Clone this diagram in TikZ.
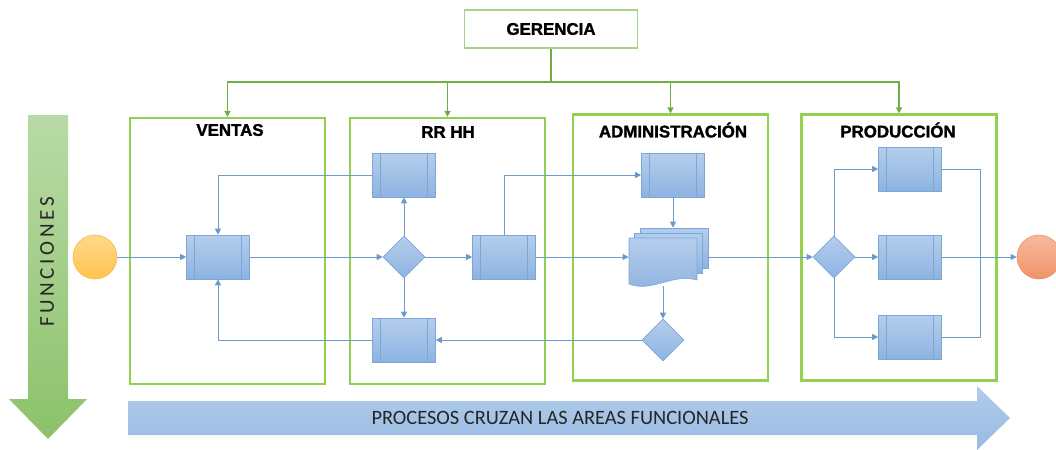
\documentclass[tikz,border=0pt]{standalone}
\usepackage{fontspec}
\setmainfont{Liberation Sans}[BoldFeatures={FakeBold=1.6}]
\newfontfamily\calibrifont{Carlito}
\newfontfamily\spacedfont[LetterSpace=17]{Carlito}
\usetikzlibrary{shapes.geometric,arrows.meta}

\definecolor{areagreen}{HTML}{92D050}
\definecolor{linkgreen}{HTML}{70AD47}
\definecolor{gerframe}{HTML}{A9D18E}
\definecolor{procedge}{HTML}{7AA6D8}
\definecolor{proctop}{HTML}{B4CEEC}
\definecolor{procbot}{HTML}{8EB3E1}
\definecolor{flowline}{HTML}{6F9BCB}
\definecolor{flowtip}{HTML}{5B9BD5}
\definecolor{funtop}{HTML}{B9DAA6}
\definecolor{funbot}{HTML}{8CC26B}
\definecolor{protop}{HTML}{B2CCEA}
\definecolor{probot}{HTML}{98BBE3}
\definecolor{starttop}{HTML}{FFD98A}
\definecolor{startbot}{HTML}{FFC24E}
\definecolor{startedge}{HTML}{F2BC4A}
\definecolor{endtop}{HTML}{F8BA9C}
\definecolor{endbot}{HTML}{F09268}
\definecolor{endedge}{HTML}{E8936A}

\begin{document}
\begin{tikzpicture}[x=0.025cm, y=-0.025cm,
    areabox/.style={draw=areagreen, line width=1.5pt, minimum width=4.875cm, minimum height=6.65cm, inner sep=0pt},
    arealabel/.style={font=\bfseries\fontsize{12}{14}\selectfont},
    procbox/.style={draw=procedge, top color=proctop, bottom color=procbot,
        minimum width=1.575cm, minimum height=1.1cm, inner sep=0pt,
        path picture={
            \draw[procedge] ([xshift=0.2cm]path picture bounding box.north west) -- ([xshift=0.2cm]path picture bounding box.south west);
            \draw[procedge] ([xshift=-0.2cm]path picture bounding box.north east) -- ([xshift=-0.2cm]path picture bounding box.south east);
        }},
    decision/.style={diamond, aspect=1, draw=procedge, top color=proctop, bottom color=procbot,
        minimum width=1.05cm, minimum height=1.05cm, inner sep=0pt},
    flow/.style={draw=flowline, line width=0.6pt, -{Triangle[length=1.5mm, width=1.5mm, fill=flowtip]}},
    plainflow/.style={draw=flowline, line width=0.6pt},
    orgflow/.style={draw=linkgreen, line width=1pt, -{Triangle[length=1.5mm, width=1.5mm]}}
]

    % Picture frame
    \useasboundingbox (0,0) rectangle (1056,449);
    \clip (0,0) rectangle (1056,449);

    % Big arrow on the left
    \shade[top color=funtop, bottom color=funbot] (28,115) -- (68,115) -- (68,399) -- (87,399)
        -- (48,439) -- (9,399) -- (28,399) -- cycle;
    \node[rotate=90, text=black!85, font=\spacedfont\fontsize{15}{18}\selectfont] (funlabel) at (47,262) {FUNCIONES};

    % Big arrow at the bottom
    \shade[top color=protop, bottom color=probot] (128,401) -- (977,401) -- (977,386) -- (1010,418)
        -- (977,450) -- (977,435) -- (128,435) -- cycle;
    \node[text=black!85, font=\calibrifont\fontsize{14.5}{17}\selectfont] (proclabel) at (560,418) {PROCESOS CRUZAN LAS AREAS FUNCIONALES};

    % Management box
    \node[draw=gerframe, line width=0.8pt, minimum width=4.325cm, minimum height=0.95cm,
        font=\bfseries\fontsize{12}{14}\selectfont] (ger) at (551,29) {GERENCIA};

    % Functional areas
    \node[areabox] (ventas) at (227.5,251) {};
    \node[areabox] (rrhh) at (447.5,251) {};
    \node[areabox] (admin) at (670.5,247.5) {};
    \node[areabox] (prod) at (899,247.5) {};

    % Area titles
    \node[arealabel] at (230,130) {VENTAS};
    \node[arealabel] at (448,132) {RR HH};
    \node[arealabel] at (673,130) {ADMINISTRACIÓN};
    \node[arealabel] at (898,130) {PRODUCCIÓN};

    % Lines from management to the areas
    \coordinate (bus) at (551,82);
    \draw[orgflow] (ger.south) -- (bus) -| (ventas.north);
    \draw[orgflow] (bus) -| (rrhh.north);
    \draw[orgflow] (bus) -| (admin.north);
    \draw[orgflow] (bus) -| (prod.north);

    % Start and end events
    \node[circle, draw=startedge, top color=starttop, bottom color=startbot, minimum size=1.1cm, inner sep=0pt] (start) at (95,257) {};
    \node[circle, draw=endedge, top color=endtop, bottom color=endbot, minimum size=1.1cm, inner sep=0pt] (finish) at (1039,257) {};

    % Steps in VENTAS
    \node[procbox] (pv) at (218,257) {};

    % Steps in RR HH
    \node[procbox] (prh1) at (404,175) {};
    \node[decision] (drh) at (404,257) {};
    \node[procbox] (prh2) at (504,257) {};
    \node[procbox] (prh3) at (404,340) {};

    % Steps in ADMINISTRACION
    \node[procbox] (padm) at (673,175) {};
    \node[minimum width=1.975cm, minimum height=1.45cm, inner sep=0pt] (mdoc) at (668.5,257) {};
    \draw[procedge, top color=proctop, bottom color=procbot] (640,228) rectangle (708,268);
    \draw[procedge, top color=proctop, bottom color=procbot] (634,233) rectangle (702,273);
    \draw[procedge, top color=proctop, bottom color=procbot] (629,238) -- (697,238) -- (697,280)
        .. controls (672,273) and (652,293) .. (629,284) -- cycle;
    \node[decision] (dadm) at (663,340) {};

    % Steps in PRODUCCION
    \node[decision] (dpro) at (834,257) {};
    \node[procbox] (ppro1) at (910,169) {};
    \node[procbox] (ppro2) at (910,257) {};
    \node[procbox] (ppro3) at (910,337) {};
    \coordinate (merge) at (980,257);

    % Process flow
    \draw[flow] (start) -- (pv);
    \draw[flow] (pv) -- (drh);
    \draw[flow] (prh1.west) -| (pv.north);
    \draw[flow] (drh) -- (prh1);
    \draw[flow] (drh) -- (prh2);
    \draw[flow] (drh) -- (prh3);
    \draw[flow] (prh3.west) -| (pv.south);
    \draw[flow] (prh2.north) |- (padm.west);
    \draw[flow] (prh2) -- (mdoc);
    \draw[flow] (padm.south) -- (padm.south |- mdoc.north);
    \draw[flow] (dadm.north |- mdoc.south) -- (dadm.north);
    \draw[flow] (dadm.west) -- (prh3.east);
    \draw[flow] (mdoc.east) -- (dpro.west);
    \draw[flow] (dpro.north) |- (ppro1.west);
    \draw[flow] (dpro) -- (ppro2);
    \draw[flow] (dpro.south) |- (ppro3.west);
    \draw[plainflow] (ppro1.east) -| (merge) |- (ppro3.east);
    \draw[flow] (ppro2) -- (finish);

\end{tikzpicture}
\end{document}
